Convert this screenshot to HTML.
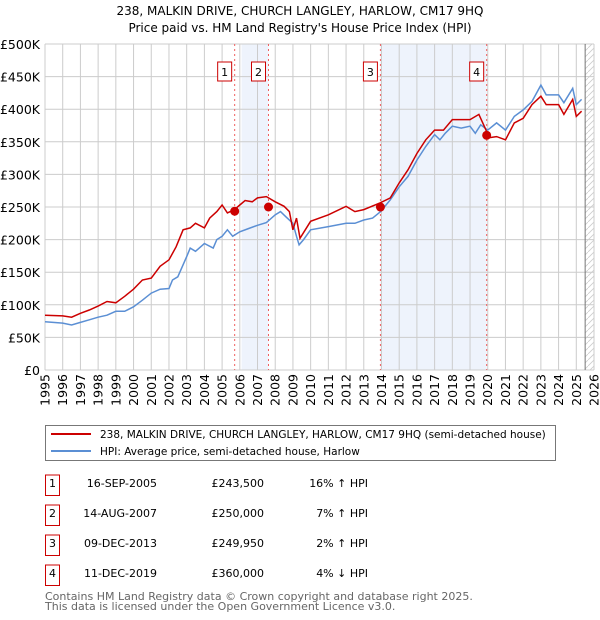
<!DOCTYPE html>
<html><head><meta charset="utf-8"><style>
body{margin:0;width:600px;height:620px;background:#fff;font-family:"DejaVu Sans","Liberation Sans",sans-serif;overflow:hidden}
svg{position:absolute;left:0;top:0}
</style></head><body>
<svg id="chart" width="600" height="620"></svg>
<script>
const years=[1995,1996,1996.5,1997,1997.5,1998,1998.5,1999,1999.5,2000,2000.5,2001,2001.5,2002,2002.2,2002.5,2003,2003.2,2003.5,2004,2004.5,2004.7,2005,2005.3,2005.6,2006,2006.5,2007,2007.5,2008,2008.3,2008.6,2009,2009.2,2009.35,2009.6,2010,2011,2012,2012.5,2013,2013.5,2013.95,2014.5,2015,2015.5,2016,2016.5,2017,2017.3,2017.6,2018,2018.5,2019,2019.3,2019.6,2020,2020.5,2021,2021.5,2022,2022.5,2023,2023.3,2024,2024.3,2024.8,2025,2025.3];
const hpiValues=[74,72,69,73,77,81,84,90,90,97,107,118,124,125,138,143,174,187,182,194,187,200,205,215,205,212,217,222,226,238,243,235,225,205,192,200,215,220,225,225,230,233,243,261,281,297,322,343,361,353,363,374,371,374,363,376,368,379,368,389,399,412,437,422,422,410,432,407,415];
const redYears=[1995,1996,1996.5,1997,1997.5,1998,1998.5,1999,1999.5,2000,2000.5,2001,2001.5,2002,2002.4,2002.8,2003.2,2003.5,2004,2004.3,2004.7,2005,2005.3,2005.7,2006,2006.3,2006.7,2007,2007.5,2008,2008.5,2008.8,2009,2009.2,2009.4,2010,2011,2012,2012.5,2013,2013.9,2014.5,2015,2015.5,2016,2016.5,2017,2017.5,2018,2018.5,2019,2019.5,2019.9,2020,2020.5,2021,2021.5,2022,2022.5,2023,2023.3,2024,2024.3,2024.8,2025,2025.3];
const redValues=[84,83,81,87,92,98,105,103,113,124,138,141,159,169,189,215,218,225,218,233,243,253,241,246,253,260,258,264,266,258,251,243,215,233,202,228,238,251,243,246,256,264,287,307,332,353,368,368,384,384,384,392,368,356,358,353,379,386,407,420,407,407,392,415,389,397];
const saleYears=[2005.71,2007.62,2013.94,2019.94];
const saleValues=[243.5,250,249.95,360];
const yTicks=[0,50,100,150,200,250,300,350,400,450,500];
const yTickLabels=["£0","£50K","£100K","£150K","£200K","£250K","£300K","£350K","£400K","£450K","£500K"];
const xTicks=[1995,1996,1997,1998,1999,2000,2001,2002,2003,2004,2005,2006,2007,2008,2009,2010,2011,2012,2013,2014,2015,2016,2017,2018,2019,2020,2021,2022,2023,2024,2025,2026];

const L=45,R=594,T=44,B=370;
const X=y=>L+(y-1995)*(R-L)/31;
const Y=v=>B-v*(B-T)/500;
const NS="http://www.w3.org/2000/svg";
const svg=document.getElementById('chart');
function mk(tag,at,parent){const e=document.createElementNS(NS,tag);for(const k in at)e.setAttribute(k,at[k]);(parent||svg).appendChild(e);return e;}

let t=mk('text',{x:300,y:15,'text-anchor':'middle','font-size':'12',fill:'#000'});t.textContent="238, MALKIN DRIVE, CHURCH LANGLEY, HARLOW, CM17 9HQ";

t=mk('text',{x:300,y:32,'text-anchor':'middle','font-size':'12',fill:'#000'});t.textContent="Price paid vs. HM Land Registry's House Price Index (HPI)";


let s=mk('rect',{x:X(2006.1),y:T,width:X(saleYears[1])-X(2006.1),height:B-T,fill:'#eef3fc'});

s=mk('rect',{x:X(saleYears[2]),y:T,width:X(saleYears[3])-X(saleYears[2]),height:B-T,fill:'#eef3fc'});

const defs=mk('defs',{});
const pat=mk('pattern',{id:'h',width:6,height:6,patternUnits:'userSpaceOnUse'},defs);
mk('path',{d:'M0,6L6,0',stroke:'#ccc','stroke-width':0.8},pat);
s=mk('rect',{x:X(2025.5),y:T,width:R-X(2025.5),height:B-T,fill:'url(#h)'});


yTicks.forEach((v,i)=>{
 const g=mk('line',{x1:L,x2:R,y1:Y(v),y2:Y(v),stroke:'#ccc','stroke-width':1});
 
 const l=mk('text',{x:40,y:Y(v)+5,'text-anchor':'end','font-size':'12.5',fill:'#000'});l.textContent=yTickLabels[i];
 
});
xTicks.forEach(y=>{
 const g=mk('line',{x1:X(y),x2:X(y),y1:T,y2:B,stroke:'#ccc','stroke-width':1});
 
 const l=mk('text',{x:0,y:0,'text-anchor':'end','font-size':'12.5',fill:'#000',transform:`translate(${X(y)+4.5},374) rotate(-90)`});l.textContent=y;
 
});
let a=mk('line',{x1:X(2025.5),x2:X(2025.5),y1:T,y2:B,stroke:'#777','stroke-width':1});


saleYears.forEach((y,i)=>{
 const l=mk('line',{x1:X(y),x2:X(y),y1:T,y2:B,stroke:'#f06060','stroke-width':1,'stroke-dasharray':'2,3'});
 
 const g=mk('g',{});
 
 mk('rect',{x:X(y)-17,y:62,width:14,height:19,fill:'#fff',stroke:'#c00','stroke-width':1},g);
 const tx=mk('text',{x:X(y)-10,y:76,'text-anchor':'middle','font-size':'11',fill:'#000'},g);tx.textContent=i+1;
});

function path(xs,vs){return xs.map((y,i)=>(i?'L':'M')+X(y).toFixed(1)+','+Y(vs[i]).toFixed(1)).join('');}
let p=mk('path',{d:path(years,hpiValues),fill:'none',stroke:'#5b8fd4','stroke-width':1.5});

p=mk('path',{d:path(redYears,redValues),fill:'none',stroke:'#cc0000','stroke-width':1.5});

saleYears.forEach((y,i)=>{
 const c=mk('circle',{cx:X(y),cy:Y(saleValues[i]),r:4.5,fill:'#cc0000'});
 
});

const lg=mk('g',{});

mk('rect',{x:45.5,y:425.5,width:510,height:35,fill:'#fff',stroke:'#777','stroke-width':1},lg);
mk('line',{x1:51,x2:91,y1:434,y2:434,stroke:'#cc0000','stroke-width':2},lg);
mk('line',{x1:51,x2:91,y1:451,y2:451,stroke:'#5b8fd4','stroke-width':2},lg);
t=mk('text',{x:100,y:438,'font-size':'10.5',fill:'#000'},lg);t.textContent="238, MALKIN DRIVE, CHURCH LANGLEY, HARLOW, CM17 9HQ (semi-detached house)";
t=mk('text',{x:100,y:455,'font-size':'10.5',fill:'#000'},lg);t.textContent="HPI: Average price, semi-detached house, Harlow";

const dates=["16-SEP-2005","14-AUG-2007","09-DEC-2013","11-DEC-2019"];
const prices=["£243,500","£250,000","£249,950","£360,000"];
const hpis=["16% ↑ HPI","7% ↑ HPI","2% ↑ HPI","4% ↓ HPI"];
dates.forEach((d,i)=>{
 const y=483+i*30;
 const g=mk('g',{});
 
 mk('rect',{x:45.5,y:y-8,width:14,height:20.5,fill:'#fff',stroke:'#c00','stroke-width':1},g);
 let tt=mk('text',{x:52.5,y:y+4,'text-anchor':'middle','font-size':'11',fill:'#000'},g);tt.textContent=i+1;
 tt=mk('text',{x:157,y:y+4,'text-anchor':'end','font-size':'11',fill:'#000'},g);tt.textContent=d;
 tt=mk('text',{x:264,y:y+4,'text-anchor':'end','font-size':'11',fill:'#000'},g);tt.textContent=prices[i];
 tt=mk('text',{x:368,y:y+4,'text-anchor':'end','font-size':'11',fill:'#000'},g);tt.textContent=hpis[i];
});
t=mk('text',{x:45,y:600,'font-size':'11',fill:'#666'});t.textContent="Contains HM Land Registry data © Crown copyright and database right 2025.";

t=mk('text',{x:45,y:610,'font-size':'11',fill:'#666'});t.textContent="This data is licensed under the Open Government Licence v3.0.";

</script>
</body></html>
